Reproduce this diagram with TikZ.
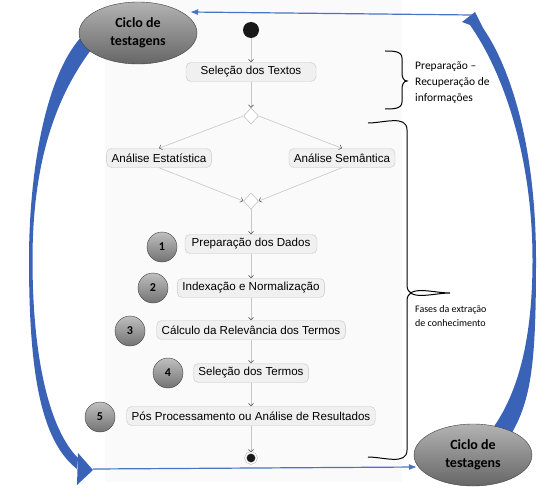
\documentclass[tikz,border=0pt]{standalone}
\usepackage{fontspec}
\setmainfont{Liberation Sans}
\newfontfamily\calibri{Carlito}
\usetikzlibrary{arrows.meta}
\usetikzlibrary{shapes.geometric}
\definecolor{arrowblue}{HTML}{3A63B8}
\definecolor{lineblue}{HTML}{4A74C2}
\colorlet{boxfill}{black!6}
\colorlet{boxline}{black!22}
\colorlet{flowline}{black!22}
\tikzset{
  actbox/.style={draw=boxline,fill=boxfill,rounded corners=5pt,minimum height=19pt,
                 inner xsep=5pt,font=\fontsize{11.6}{13}\selectfont},
  decision/.style={diamond,draw=black!30,fill=white,minimum width=15pt,
                   minimum height=16pt,inner sep=0pt},
  flow/.style={draw=flowline,line width=0.6pt,
               -{Straight Barb[length=2.5pt,width=5pt,color=black!60]}},
  numball/.style={circle,draw=black!75,top color=black!25,bottom color=black!55,
                  minimum size=30pt,inner sep=0pt,
                  font=\calibri\bfseries\fontsize{12}{14}\selectfont},
  cycle/.style={ellipse,draw=black!75,top color=black!30,bottom color=black!60,
                minimum width=118pt,minimum height=62pt,inner sep=0pt,align=center,
                font=\calibri\bfseries\fontsize{14}{18}\selectfont},
  brace line/.style={line width=1pt,black},
  thin blue/.style={lineblue,line width=1.2pt,-{Latex[length=8pt,width=6pt]}},
  brace text/.style={anchor=west,align=left,inner sep=0pt},
}
% word-like curly brace: end x, spine x, top y, bottom y, tip x, tip y
\newcommand\wordBrace[6]{
  \draw[brace line] (#1,#3) to[out=0,in=90] (#2,#3+7) -- (#2,#6-8)
    to[out=270,in=180] (#5,#6) to[out=180,in=90] (#2,#6+8) -- (#2,#4-7)
    to[out=270,in=0] (#1,#4);
}

\begin{document}
\begin{tikzpicture}[x=1pt,y=-1pt]
  \useasboundingbox (0,0) rectangle (540,492);

  % PANEL
  \fill[black!2] (105,0) rectangle (402,482);

  % ACTIVITIES
  \node[circle,fill=black!90,minimum size=16pt,inner sep=0pt] (start) at (251,30) {};
  \node[actbox,minimum width=130pt] (sel)  at (251,72)  {Seleção dos Textos};
  \node[decision]                   (d1)   at (251,116) {};
  \node[actbox]                     (est)  at (159,158) {Análise Estatística};
  \node[actbox]                     (sem)  at (342,158) {Análise Semântica};
  \node[decision]                   (d2)   at (251,201) {};
  \node[actbox,minimum width=132pt] (prep) at (251,244) {Preparação dos Dados};
  \node[actbox]                     (idx)  at (251,288) {Indexação e Normalização};
  \node[actbox]                     (calc) at (251,330) {Cálculo da Relevância dos Termos};
  \node[actbox]                     (selt) at (251,373) {Seleção dos Termos};
  \node[actbox]                     (pos)  at (251,416) {Pós Processamento ou Análise de Resultados};
  \node[circle,fill=black!90,minimum size=11pt,inner sep=0pt,draw=black!35,
        double=white,double distance=1.3pt] (end) at (251,458) {};

  % FLOW
  \draw[flow] (start) -- (sel);
  \draw[flow] (sel) -- (d1);
  \draw[flow] (d1.west) -- (est.north);
  \draw[flow] (d1.east) -- (sem.north);
  \draw[flow] (est.south) -- (d2.west);
  \draw[flow] (sem.south) -- (d2.east);
  \draw[flow] (d2) -- (prep);
  \draw[flow] (prep) -- (idx);
  \draw[flow] (idx) -- (calc);
  \draw[flow] (calc) -- (selt);
  \draw[flow] (selt) -- (pos);
  \draw[flow] (pos) -- (end);

  % NUMBERS
  \node[numball] (n1) at (162,247) {1};
  \node[numball] (n2) at (153,288) {2};
  \node[numball] (n3) at (130,331) {3};
  \node[numball] (n4) at (168,373) {4};
  \node[numball] (n5) at (100,417) {5};

  % BRACES
  \wordBrace{385}{402}{51}{109}{407}{81}
  \wordBrace{368}{407}{123}{457}{450}{293}
  \node[brace text,font=\calibri\fontsize{11.5}{16}\selectfont] (prepTxt) at (415,83)
    {Preparação –\\Recuperação de\\informações};
  \node[brace text,font=\calibri\fontsize{10}{14.5}\selectfont] (fasesTxt) at (415,316)
    {Fases da extração\\de conhecimento};

  % CYCLE ARROWS
  \fill[arrowblue] (84,34) .. controls (46,72) and (29,170) .. (29,260)
    .. controls (29,370) and (40,440) .. (77,469) -- (78,458)
    .. controls (50,430) and (32.5,360) .. (32.5,260)
    .. controls (32.5,170) and (52,100) .. (94,46) -- cycle;
  \fill[arrowblue] (78,453) -- (93,470) -- (77,485) -- cycle;
  \fill[arrowblue] (510,436) .. controls (532,400) and (536,360) .. (536,260)
    .. controls (536,150) and (512,70) .. (483,28) -- (475,12) -- (462,22) -- (470,25)
    .. controls (505,75) and (532.5,160) .. (532.5,260)
    .. controls (532.5,340) and (518,395) .. (490,432) -- cycle;

  \coordinate (topR) at (472,15);
  \coordinate (topL) at (190,12);
  \coordinate (botL) at (93,469);
  \coordinate (botR) at (417,467);
  \draw[thin blue] (topR) -- (topL);
  \draw[thin blue] (botL) -- (botR);

  \node[cycle] (c1) at (138,33)  {Ciclo de\\testagens};
  \node[cycle] (c2) at (473,455) {Ciclo de\\testagens};
\end{tikzpicture}
\end{document}
